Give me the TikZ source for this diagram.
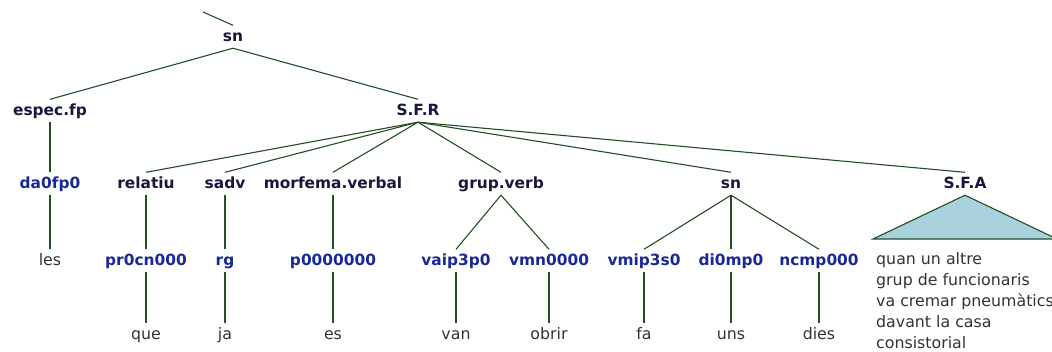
\documentclass[tikz,border=0pt]{standalone}
\usepackage{fontspec}
\setmainfont{DejaVu Sans}
\definecolor{ntcol}{RGB}{22,22,62}
\definecolor{poscol}{RGB}{24,40,150}
\definecolor{wdcol}{RGB}{50,50,50}
\definecolor{linecol}{RGB}{35,78,35}
\definecolor{trifill}{RGB}{170,210,222}
\tikzset{
  labbox/.style={anchor=base, inner xsep=1pt, inner ysep=4pt, text height=11.5pt, text depth=3pt},
  ntnode/.style={labbox, font=\fontsize{15.4}{18}\selectfont\bfseries, text=ntcol},
  tagnode/.style={labbox, font=\fontsize{15.4}{18}\selectfont\bfseries, text=poscol},
  wdnode/.style={labbox, font=\fontsize{15.8}{18}\selectfont, text=wdcol},
  phrnode/.style={anchor=base west, inner sep=0pt, font=\fontsize{15.8}{18}\selectfont, text=wdcol},
  conn/.style={draw=linecol, line width=1.1pt},
}
\begin{document}
\begin{tikzpicture}[x=1pt,y=-1pt]
\useasboundingbox (0,0) rectangle (1052,351);
\clip (0,0) rectangle (1052,351);
% row 0 / 1
\node[ntnode] (sn0) at (233,41) {sn};
\coordinate (stub) at (203,12);
\node[ntnode] (espec) at (50,115) {espec.fp};
\node[ntnode] (sfr) at (418,115) {S.F.R};
% row 2
\node[tagnode] (da) at (50,188) {da0fp0};
\node[ntnode] (rel) at (146,188) {relatiu};
\node[ntnode] (sadv) at (225,188) {sadv};
\node[ntnode] (morf) at (333,188) {morfema.verbal};
\node[ntnode] (gv) at (501,188) {grup.verb};
\node[ntnode] (sn1) at (731,188) {sn};
\node[ntnode] (sfa) at (965,188) {S.F.A};
% row 3
\node[wdnode] (les) at (50,265) {les};
\node[tagnode] (pr) at (146,265) {pr0cn000};
\node[tagnode] (rg) at (225,265) {rg};
\node[tagnode] (p0) at (333,265) {p0000000};
\node[tagnode] (vaip) at (456,265) {vaip3p0};
\node[tagnode] (vmn) at (549,265) {vmn0000};
\node[tagnode] (vmip) at (644,265) {vmip3s0};
\node[tagnode] (di) at (731,265) {di0mp0};
\node[tagnode] (nc) at (819,265) {ncmp000};
% row 4
\node[wdnode] (que) at (146,339) {que};
\node[wdnode] (ja) at (225,339) {ja};
\node[wdnode] (es) at (333,339) {es};
\node[wdnode] (van) at (456,339) {van};
\node[wdnode] (obrir) at (549,339) {obrir};
\node[wdnode] (fa) at (644,339) {fa};
\node[wdnode] (uns) at (731,339) {uns};
\node[wdnode] (dies) at (819,339) {dies};
% phrase under triangle
\node[phrnode] (t1) at (876,264) {quan un altre};
\node[phrnode] (t2) at (876,285) {grup de funcionaris};
\node[phrnode] (t3) at (876,306) {va cremar pneumàtics};
\node[phrnode] (t4) at (876,327) {davant la casa};
\node[phrnode] (t5) at (876,348) {consistorial};
% connectors
\draw[conn] (stub) -- (sn0.north);
\draw[conn] (sn0.south) -- (espec.north);
\draw[conn] (sn0.south) -- (sfr.north);
\draw[conn] (espec.south) -- (da.north);
\draw[conn] (da.south) -- (les.north);
\foreach \c in {rel,sadv,morf,gv,sn1,sfa} \draw[conn] (sfr.south) -- (\c.north);
\draw[conn] (rel.south) -- (pr.north);
\draw[conn] (sadv.south) -- (rg.north);
\draw[conn] (morf.south) -- (p0.north);
\draw[conn] (gv.south) -- (vaip.north);
\draw[conn] (gv.south) -- (vmn.north);
\draw[conn] (sn1.south) -- (vmip.north);
\draw[conn] (sn1.south) -- (di.north);
\draw[conn] (sn1.south) -- (nc.north);
\draw[conn] (pr.south) -- (que.north);
\draw[conn] (rg.south) -- (ja.north);
\draw[conn] (p0.south) -- (es.north);
\draw[conn] (vaip.south) -- (van.north);
\draw[conn] (vmn.south) -- (obrir.north);
\draw[conn] (vmip.south) -- (fa.north);
\draw[conn] (di.south) -- (uns.north);
\draw[conn] (nc.south) -- (dies.north);
% triangle
\coordinate (tl) at (873,239);
\coordinate (tr) at (1057,239);
\draw[conn, fill=trifill] (sfa.south) -- (tl) -- (tr) -- cycle;
\end{tikzpicture}
\end{document}
